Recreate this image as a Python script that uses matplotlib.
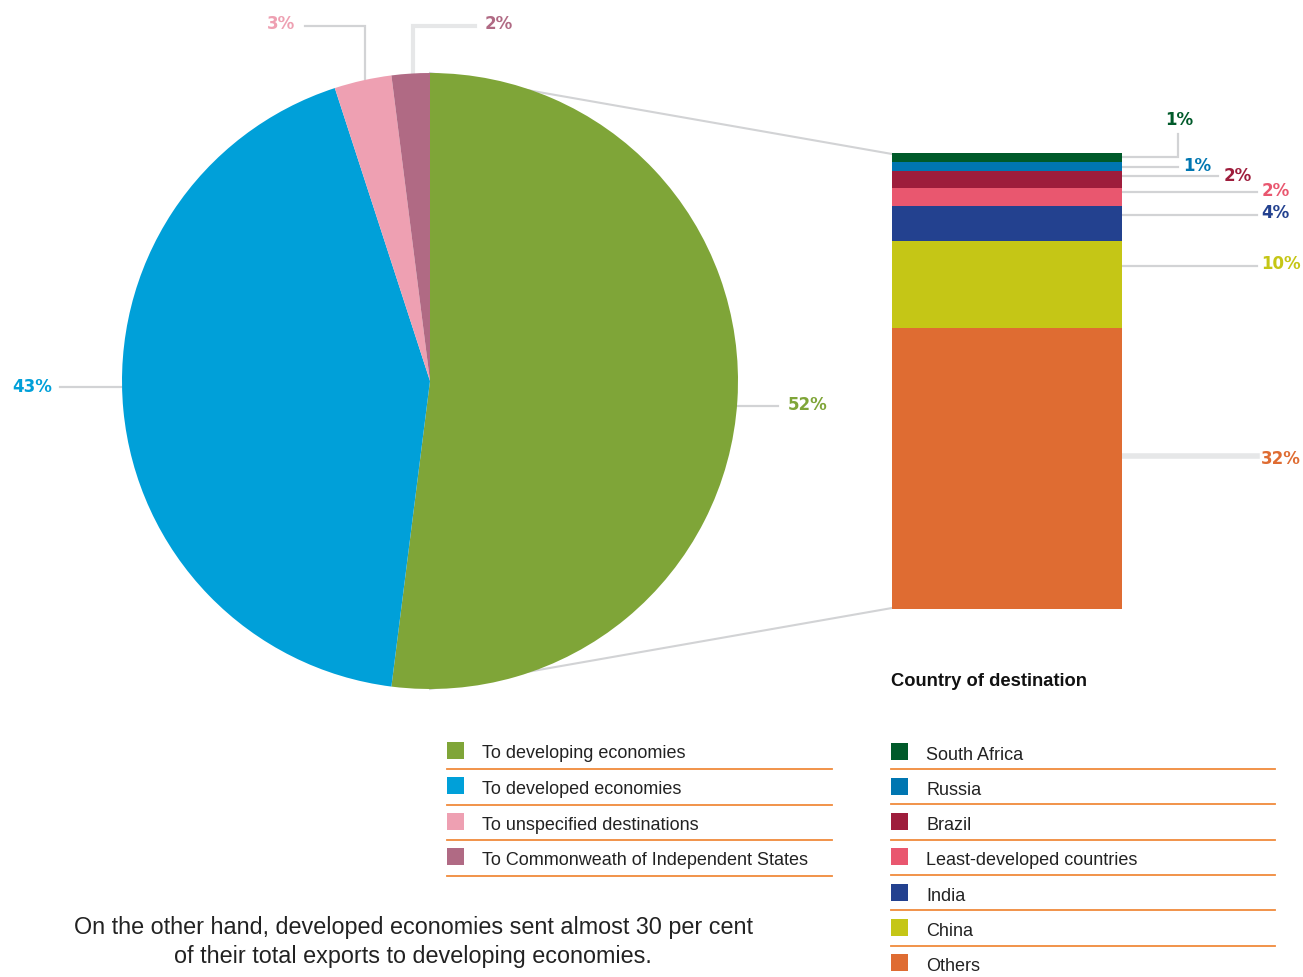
import matplotlib.pyplot as plt
from matplotlib.patches import Rectangle

plt.rcParams['font.family'] = ['Liberation Sans', 'DejaVu Sans']

# share of exports by destination group (pie)
pie_labels = ["To developing economies", "To developed economies",
              "To unspecified destinations", "To Commonweath of Independent States"]
pie_values = [52, 43, 3, 2]
pie_colors = ["#7fa538", "#00a0d9", "#eea0b2", "#b06a84"]

# breakdown of the developing-economies share (stacked bar, bottom to top)
bar_labels = ["Others", "China", "India", "Least-developed countries",
              "Brazil", "Russia", "South Africa"]
bar_values = [32, 10, 4, 2, 2, 1, 1]
bar_colors = ["#df6c32", "#c5c616", "#23418f", "#e9576f",
              "#9e1d3c", "#0076b1", "#005a2a"]

caption = ("On the other hand, developed economies sent almost 30 per cent\n"
           "of their total exports to developing economies.")

W, H = 1303, 978
fig = plt.figure(figsize=(W / 100, H / 100), dpi=100)

# overlay in pixel units for leaders, labels and legends
ov = fig.add_axes([0, 0, 1, 1], zorder=0)
ov.set_xlim(0, W)
ov.set_ylim(H, 0)
ov.axis('off')

# pie
ax_pie = fig.add_axes([122 / W, 1 - 690 / H, 616 / W, 616 / H], zorder=1)
ax_pie.pie(pie_values, colors=pie_colors, startangle=90, counterclock=False,
           radius=1, wedgeprops=dict(linewidth=0))
ax_pie.set_xlim(-1, 1)
ax_pie.set_ylim(-1, 1)
ax_pie.axis('off')

# stacked bar
ax_bar = fig.add_axes([892 / W, 1 - 610 / H, 230 / W, 456 / H], zorder=1)
bottom = 0
for v, c in zip(bar_values, bar_colors):
    ax_bar.bar(0, v, width=1, bottom=bottom, color=c, linewidth=0)
    bottom += v
ax_bar.set_xlim(-0.5, 0.5)
ax_bar.set_ylim(0, sum(bar_values))
ax_bar.axis('off')

grey = "#d2d3d5"
pale = "#e6e7e8"
pct_font = dict(family='DejaVu Sans', fontsize=12, fontweight='bold',
                ha='center', va='center')

# lines joining the pie to the bar
ov.plot([430, 892], [74, 155], color=grey, lw=1.5)
ov.plot([430, 892], [690, 609], color=grey, lw=1.5)

# pie value labels with leaders
pie_lbl = [
    (808, 405, [(738, 778), (407, 407)]),
    (32, 387, [(60, 122), (388, 388)]),
    (281, 24, [(305, 365, 365), (27, 27, 80)]),
    (499, 24, [(475, 413, 413), (27, 27, 76)]),
]
for (tx, ty, (lx, ly)), v, c in zip(pie_lbl, pie_values, pie_colors):
    lw = 3 if v == 2 else 1.6
    col = pale if v == 2 else grey
    ov.plot(lx, ly, color=col, lw=lw, solid_joinstyle='miter')
    ov.text(tx, ty, f"{v}%", color=c, **pct_font)

# bar value labels with leaders (bottom to top order)
bar_lbl = [
    (1281, 459, [(1122, 1257), (457, 457)]),
    (1281, 264, [(1122, 1257), (267, 267)]),
    (1275, 213, [(1122, 1257), (216, 216)]),
    (1276, 191, [(1122, 1257), (193, 193)]),
    (1238, 176, [(1122, 1218), (177, 177)]),
    (1197, 166, [(1122, 1178), (168, 168)]),
    (1179, 120, [(1122, 1178, 1178), (158, 158, 135)]),
]
for (tx, ty, (lx, ly)), v, c in zip(bar_lbl, bar_values, bar_colors):
    lw = 4 if v == 32 else 1.6
    col = pale if v == 32 else grey
    ov.plot(lx, ly, color=col, lw=lw, solid_joinstyle='miter')
    ov.text(tx, ty, f"{v}%", color=c, **pct_font)

rule = "#f08a3c"
txt = "#222222"

# left legend
for i, (lab, c) in enumerate(zip(pie_labels, pie_colors)):
    y = 751 + i * 35.5
    ov.add_patch(Rectangle((447, y - 8.5), 17, 17, color=c, lw=0))
    ov.text(482, y + 3, lab, fontsize=13, color=txt, va='center')
    ov.plot([447, 832], [y + 19, y + 19], color=rule, lw=1.3)

# right legend, top to bottom
ov.text(891, 682, "Country of destination", fontsize=13.2, fontweight='bold',
        color="#111111", va='center')
right = list(zip(bar_labels, bar_colors))[::-1]
for i, (lab, c) in enumerate(right):
    y = 752 + i * 35.3
    ov.add_patch(Rectangle((891, y - 8.5), 17, 17, color=c, lw=0))
    ov.text(926, y + 3, lab, fontsize=13, color=txt, va='center')
    if i < len(right) - 1:
        ov.plot([891, 1275], [y + 18, y + 18], color=rule, lw=1.3)

ov.text(413, 942, caption, fontsize=16.8, color=txt, ha='center',
        va='center', linespacing=1.3)

fig.savefig("out.png", dpi=100)
